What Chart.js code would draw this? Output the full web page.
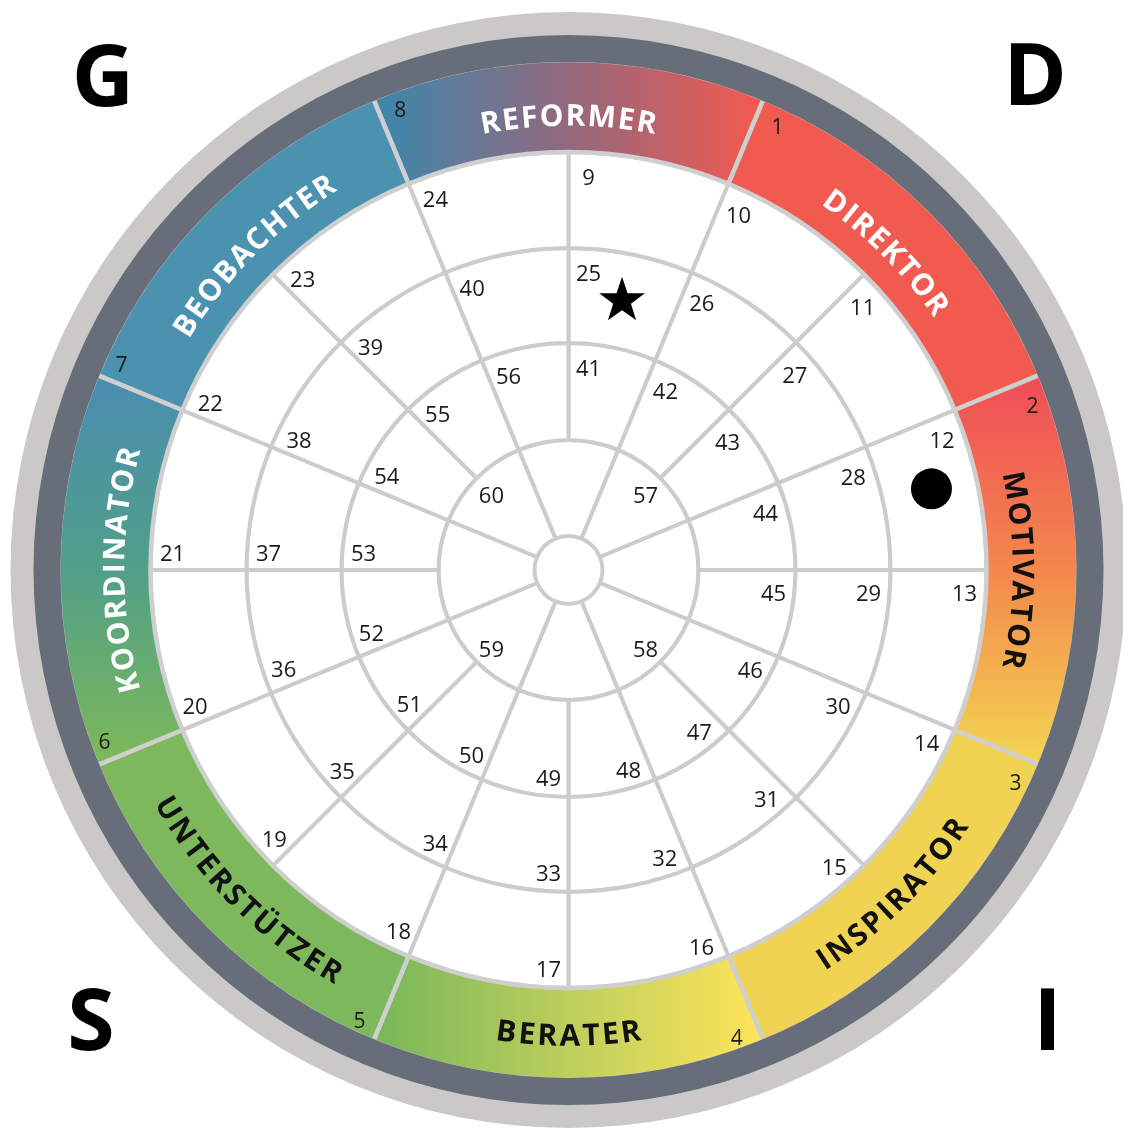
<!DOCTYPE html>
<html>
<head>
<meta charset="utf-8">
<title>Verhaltensrad</title>
<script src="https://cdn.jsdelivr.net/npm/chart.js@4.4.0/dist/chart.umd.min.js"></script>
<style>
  html, body { margin: 0; padding: 0; background: #fff; }
  #wrap { width: 1123px; height: 1128px; position: relative; }
</style>
</head>
<body>
<div id="wrap"><canvas id="myChart"></canvas></div>
<script>
// Farbring, im Uhrzeigersinn ab oben
var bandNames = ['REFORMER', 'DIREKTOR', 'MOTIVATOR', 'INSPIRATOR', 'BERATER', 'UNTERSTÜTZER', 'KOORDINATOR', 'BEOBACHTER'];
var bandNumbers = ['8', '1', '2', '3', '4', '5', '6', '7'];

// weisse Felder, von aussen nach innen
var ringOuter = ['9', '10', '11', '12', '13', '14', '15', '16', '17', '18', '19', '20', '21', '22', '23', '24'];
var ringMiddle = ['25', '26', '27', '28', '29', '30', '31', '32', '33', '34', '35', '36', '37', '38', '39', '40'];
var ringInner = ['41', '42', '43', '44', '45', '46', '47', '48', '49', '50', '51', '52', '53', '54', '55', '56'];
var ringCore = ['', '57', '', '58', '', '59', '', '60'];

var cornerLetters = ['G', 'D', 'S', 'I'];

// Markierungen: Feldnummer + Lage im Feld
var markerTypes = ['star', 'dot'];
var markerCells = ['25', '12'];
var markerAngle = [0.5, 0.44];
var markerLevel = [0.5, 0.52];

// ---- styles ----
var gridColor = '#cccccc';
var bandTextColors = ['#fff', '#fff', '#111', '#111', '#111', '#111', '#fff', '#fff'];
var solidBand = ['#94687c', '#f15a4f', '#f3874c', '#f1d353', '#bccf5c', '#7db95c', '#50a08a', '#4b91b0'];

function ones(n) {
    var a = [];
    for (var i = 0; i < n; i++) a.push(1);
    return a;
}

function bandFill(c) {
    var chart = c.chart, area = chart.chartArea, i = c.dataIndex;
    if (!area) return solidBand[i];
    var ctx = chart.ctx;
    var cx = (area.left + area.right) / 2, cy = (area.top + area.bottom) / 2;
    var g;
    if (i === 0) {
        g = ctx.createLinearGradient(cx - 190, 0, cx + 190, 0);
        g.addColorStop(0, '#3d87ab');
        g.addColorStop(0.5, '#93687d');
        g.addColorStop(1, '#f25a50');
    } else if (i === 2) {
        g = ctx.createLinearGradient(0, cy - 190, 0, cy + 190);
        g.addColorStop(0, '#f04e58');
        g.addColorStop(0.5, '#f3884c');
        g.addColorStop(1, '#f3d452');
    } else if (i === 4) {
        g = ctx.createLinearGradient(cx - 190, 0, cx + 190, 0);
        g.addColorStop(0, '#78b75a');
        g.addColorStop(0.5, '#bdcf5c');
        g.addColorStop(1, '#fee35a');
    } else if (i === 6) {
        g = ctx.createLinearGradient(0, cy - 190, 0, cy + 190);
        g.addColorStop(0, '#4a8db0');
        g.addColorStop(0.5, '#519f88');
        g.addColorStop(1, '#7cb95a');
    } else {
        return solidBand[i];
    }
    return g;
}

function drawArcText(ctx, text, cx, cy, r, mid, inward, spacing, cap) {
    var widths = [], total = 0;
    for (var k = 0; k < text.length; k++) {
        var w = ctx.measureText(text[k]).width;
        widths.push(w);
        total += w;
    }
    total += spacing * (text.length - 1);
    var dir = inward ? -1 : 1;
    var a = mid - dir * total / 2 / r;
    for (var k = 0; k < text.length; k++) {
        var ang = a + dir * (widths[k] / 2) / r;
        ctx.save();
        ctx.translate(cx + r * Math.cos(ang), cy + r * Math.sin(ang));
        ctx.rotate(ang + dir * Math.PI / 2);
        ctx.fillText(text[k], 0, cap / 2);
        ctx.restore();
        a += dir * (widths[k] + spacing) / r;
    }
}

function numberAt(ctx, arc, text, inset, shift) {
    var r = arc.outerRadius - inset, s = arc.startAngle;
    var x = arc.x + r * Math.cos(s) - shift * Math.sin(s);
    var y = arc.y + r * Math.sin(s) + shift * Math.cos(s);
    ctx.fillText(text, x, y + 3 + 8);
}

function drawStar(ctx, x, y, R) {
    var r = R * 0.39;
    ctx.beginPath();
    for (var k = 0; k < 10; k++) {
        var rad = k % 2 === 0 ? R : r;
        var a = -Math.PI / 2 + k * Math.PI / 5;
        var px = x + rad * Math.cos(a), py = y + rad * Math.sin(a);
        if (k === 0) ctx.moveTo(px, py); else ctx.lineTo(px, py);
    }
    ctx.closePath();
    ctx.fill();
}

var labelPlugin = {
    id: 'labels',
    afterDatasetsDraw: function(chart) {
        var ctx = chart.ctx;
        ctx.save();

        // Namen im Farbring
        var band = chart.getDatasetMeta(2).data;
        ctx.font = 'bold 30px "Open Sans"';
        ctx.textAlign = 'center';
        ctx.textBaseline = 'alphabetic';
        band.forEach(function(arc, i) {
            var mid = (arc.startAngle + arc.endAngle) / 2;
            var inward = Math.sin(mid) > 0.1;
            var rm = (arc.innerRadius + arc.outerRadius) / 2;
            ctx.fillStyle = bandTextColors[i];
            drawArcText(ctx, bandNames[i], arc.x, arc.y, inward ? rm + 1 : rm - 9, mid, inward, 2.2, 21.4);
        });

        // Nummern im Farbring
        ctx.fillStyle = '#1a1a1a';
        ctx.font = '21px "Open Sans"';
        band.forEach(function(arc, i) {
            numberAt(ctx, arc, bandNumbers[i], 17, 22);
        });

        // Nummern in den weissen Feldern
        ctx.font = '22px "Open Sans"';
        var rings = [[3, ringOuter], [4, ringMiddle], [5, ringInner]];
        rings.forEach(function(rg) {
            chart.getDatasetMeta(rg[0]).data.forEach(function(arc, i) {
                numberAt(ctx, arc, rg[1][i], 22, 20);
            });
        });
        chart.getDatasetMeta(6).data.forEach(function(arc, i) {
            if (!ringCore[i]) return;
            var mid = (arc.startAngle + arc.endAngle) / 2, r = arc.outerRadius - 21;
            ctx.fillText(ringCore[i], arc.x + r * Math.cos(mid), arc.y + r * Math.sin(mid) + 2 + 8);
        });

        // Stern und Punkt
        ctx.fillStyle = '#000';
        markerTypes.forEach(function(type, m) {
            var cell = markerCells[m], arc = null;
            rings.forEach(function(rg) {
                var idx = rg[1].indexOf(cell);
                if (idx >= 0) arc = chart.getDatasetMeta(rg[0]).data[idx];
            });
            if (!arc) return;
            var a = arc.startAngle + (arc.endAngle - arc.startAngle) * markerAngle[m];
            var r = arc.innerRadius + (arc.outerRadius - arc.innerRadius) * markerLevel[m];
            var x = arc.x + r * Math.cos(a), y = arc.y + r * Math.sin(a);
            if (type === 'star') {
                drawStar(ctx, x, y, 24);
            } else {
                ctx.beginPath();
                ctx.arc(x, y, 20.5, 0, Math.PI * 2);
                ctx.fill();
            }
        });

        // Ecken
        ctx.font = 'bold 86px "Open Sans"';
        ctx.fillText(cornerLetters[0], 103, 106);
        ctx.fillText(cornerLetters[1], 1035, 105);
        ctx.fillText(cornerLetters[2], 91, 1050);
        ctx.fillText(cornerLetters[3], 1047.5, 1050);

        ctx.restore();
    }
};

var whiteRing = {
    backgroundColor: '#ffffff',
    borderColor: gridColor,
    borderWidth: 4
};

var ctx = document.getElementById('myChart').getContext('2d');
var chart = new Chart(ctx, {
    type: 'doughnut',
    data: {
        labels: bandNames,
        datasets: [
            { data: [1], backgroundColor: '#cbc9c7', borderWidth: 0, weight: 23 },
            { data: [1], backgroundColor: '#676e79', borderColor: '#676e79', borderWidth: 4, weight: 25 },
            { data: ones(bandNames.length), backgroundColor: bandFill, borderColor: '#cfcfcf', borderWidth: 4.5, weight: 92, rotation: -22.5 },
            Object.assign({ data: ones(ringOuter.length), weight: 96 }, whiteRing),
            Object.assign({ data: ones(ringMiddle.length), weight: 95 }, whiteRing),
            Object.assign({ data: ones(ringInner.length), weight: 97 }, whiteRing),
            Object.assign({ data: ones(ringCore.length), weight: 96, rotation: -22.5 }, whiteRing)
        ]
    },
    options: {
        responsive: true,
        maintainAspectRatio: false,
        animation: false,
        events: [],
        radius: 558,
        cutout: '6.093%',
        layout: { padding: { left: 14, top: 12 } },
        plugins: {
            legend: { display: false },
            tooltip: { enabled: false }
        }
    },
    plugins: [labelPlugin]
});
</script>
</body>
</html>
